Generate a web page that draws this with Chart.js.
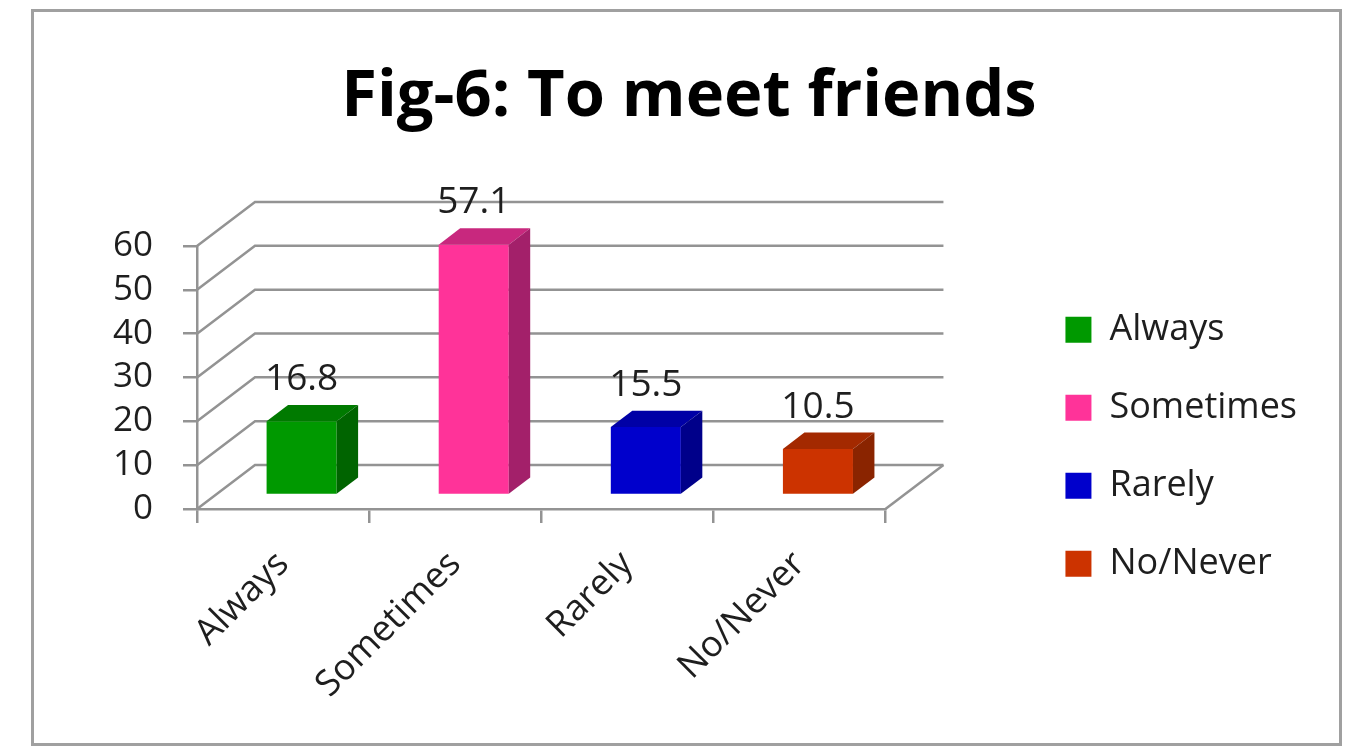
<!DOCTYPE html>
<html>

<head>
    <meta charset="utf-8">
    <title>Fig-6: To meet friends</title>
    <style>
        body { margin: 0; background: #fff; }
        #frame {
            position: absolute; left: 31px; top: 9px;
            width: 1305px; height: 731px;
            border: 3px solid #a0a0a0; background: #fff;
        }
    </style>
</head>

<body>
    <div id="frame">
        <canvas id="myChart" width="1305" height="731"></canvas>
    </div>

    <script src="https://cdn.jsdelivr.net/npm/chart.js"></script>

    <script>
        // data
        const categories = ['Always', 'Sometimes', 'Rarely', 'No/Never'];
        const values = [16.8, 57.1, 15.5, 10.5];
        const yTicks = [0, 10, 20, 30, 40, 50, 60];

        // colours for front, top and side faces
        const frontColors = ['#009900', '#ff3399', '#0000cc', '#cc3300'];
        const topColors = ['#007a00', '#c8287e', '#0000a6', '#a32900'];
        const sideColors = ['#006400', '#a3206a', '#00008a', '#8a2400'];

        const FONT = "'Open Sans', 'DejaVu Sans', sans-serif";
        const GRID = '#939393';
        const TEXT = '#1e1e1e';

        // fake 3d: wall depth, where the bars stand and how deep they are
        const DX = 58, DY = 44;
        const BAR_POS = 0.32;
        const BAR_DEPTH = 0.37;

        const threeD = {
            id: 'threeD',
            beforeDatasetsDraw(chart) {
                const { ctx, chartArea: a, scales: { x, y } } = chart;
                ctx.save();
                ctx.strokeStyle = GRID;
                ctx.lineWidth = 2.5;
                y.ticks.forEach(t => {
                    const py = y.getPixelForValue(t.value);
                    ctx.beginPath();
                    ctx.moveTo(a.left, py);
                    ctx.lineTo(a.left + DX, py - DY);
                    ctx.lineTo(a.right + DX, py - DY);
                    ctx.stroke();
                });
                // right edge of the floor
                ctx.beginPath();
                ctx.moveTo(a.right, a.bottom);
                ctx.lineTo(a.right + DX, a.bottom - DY);
                ctx.stroke();
                ctx.restore();
                // bars sit a bit back on the floor
                ctx.save();
                ctx.translate(DX * BAR_POS, -DY * BAR_POS);
            },
            afterDatasetsDraw(chart) {
                const ctx = chart.ctx;
                const sx = DX * BAR_DEPTH, sy = DY * BAR_DEPTH;
                chart.getDatasetMeta(0).data.forEach((bar, i) => {
                    const l = bar.x - bar.width / 2, r = bar.x + bar.width / 2;
                    // top
                    ctx.fillStyle = topColors[i];
                    ctx.beginPath();
                    ctx.moveTo(l, bar.y);
                    ctx.lineTo(l + sx, bar.y - sy);
                    ctx.lineTo(r + sx, bar.y - sy);
                    ctx.lineTo(r, bar.y);
                    ctx.closePath();
                    ctx.fill();
                    // side
                    ctx.fillStyle = sideColors[i];
                    ctx.beginPath();
                    ctx.moveTo(r, bar.y);
                    ctx.lineTo(r + sx, bar.y - sy);
                    ctx.lineTo(r + sx, bar.base - sy);
                    ctx.lineTo(r, bar.base);
                    ctx.closePath();
                    ctx.fill();
                    // value label
                    ctx.fillStyle = TEXT;
                    ctx.font = '37px ' + FONT;
                    ctx.textAlign = 'center';
                    ctx.textBaseline = 'alphabetic';
                    ctx.fillText(values[i].toFixed(1), bar.x, bar.y - sy - 15);
                });
                ctx.restore();
            }
        };

        const config = {
            type: 'bar',
            data: {
                labels: categories,
                datasets: [{
                    label: 'To meet friends',
                    data: values,
                    backgroundColor: frontColors,
                    borderWidth: 0,
                    categoryPercentage: 1,
                    barPercentage: 0.407,
                    clip: false
                }]
            },
            options: {
                responsive: false,
                animation: false,
                layout: { padding: { top: 0, left: 37, bottom: 0, right: 32 } },
                plugins: {
                    title: {
                        display: true,
                        text: 'Fig-6: To meet friends',
                        color: '#000',
                        font: { family: FONT, size: 65, weight: 'bold', lineHeight: 1.2 },
                        padding: { top: 46, bottom: 110 }
                    },
                    legend: {
                        position: 'right',
                        maxWidth: 316,
                        title: {
                            display: true,
                            text: ' ',
                            font: { size: 12, lineHeight: 1.2 },
                            padding: { top: 0, bottom: 124 }
                        },
                        labels: {
                            color: TEXT,
                            font: { family: FONT, size: 36 },
                            boxWidth: 26,
                            boxHeight: 26,
                            padding: 42,
                            generateLabels: () => categories.map((c, i) => ({
                                text: c,
                                fillStyle: frontColors[i],
                                strokeStyle: frontColors[i],
                                fontColor: TEXT,
                                lineWidth: 0,
                                hidden: false,
                                index: i
                            }))
                        }
                    },
                    tooltip: { enabled: false }
                },
                scales: {
                    x: {
                        grid: { drawOnChartArea: false, offset: true, color: GRID, lineWidth: 2.5, tickLength: 14 },
                        border: { color: GRID, width: 2.5 },
                        ticks: {
                            color: TEXT,
                            font: { family: FONT, size: 36 },
                            minRotation: 45,
                            maxRotation: 45,
                            padding: 20
                        },
                        afterFit: s => { s.height = 234; }
                    },
                    y: {
                        min: 0,
                        max: 60,
                        afterBuildTicks: s => { s.ticks = yTicks.map(v => ({ value: v })); },
                        grid: { drawOnChartArea: false, color: GRID, lineWidth: 2.5, tickLength: 14 },
                        border: { color: GRID, width: 2.5 },
                        ticks: {
                            color: TEXT,
                            font: { family: FONT, size: 35 },
                            padding: 30,
                            autoSkip: false
                        },
                        afterFit: s => { s.width = 126; }
                    },
                    // empty spacer between plot and legend
                    gap: {
                        position: 'right',
                        display: true,
                        grid: { display: false },
                        border: { display: false },
                        ticks: { display: false },
                        afterFit: s => { s.width = 138; }
                    }
                }
            },
            plugins: [threeD]
        };

        const ctx = document.getElementById('myChart');
        new Chart(ctx, config);
    </script>

</body>

</html>
